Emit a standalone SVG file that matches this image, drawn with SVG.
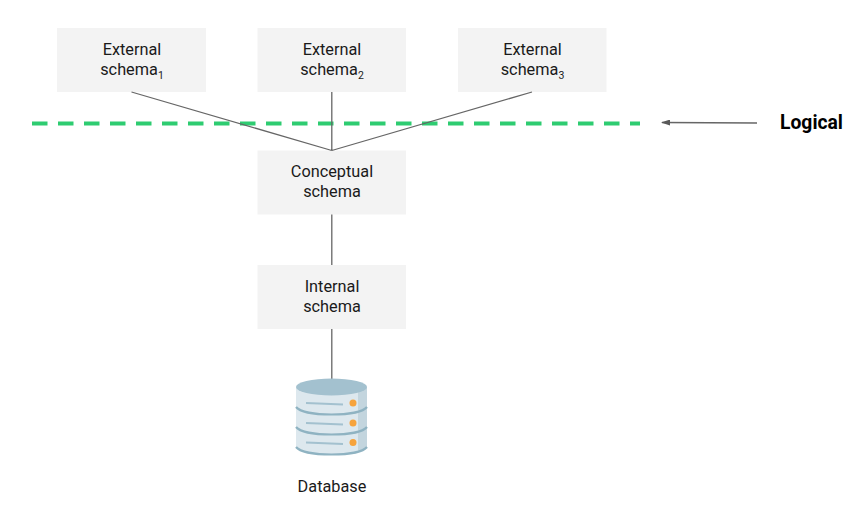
<svg xmlns="http://www.w3.org/2000/svg" width="850" height="514" viewBox="0 0 850 514">
<style>
.box{fill:#f3f3f3}
text{font-family:Roboto,"Liberation Sans",sans-serif;font-size:16.300px;fill:#1a1a1a;text-anchor:middle}
.sub{font-size:10.500px}
.ln{stroke:#666;stroke-width:1.300;fill:none}
</style>
<defs><marker id="ah" markerWidth="9" markerHeight="6" refX="8" refY="3" orient="auto" markerUnits="userSpaceOnUse"><path d="M0 0L9 3L0 6Z" fill="#595959"/></marker></defs>
<rect width="850" height="514" fill="#fff"/>
<g id="n1"><rect class="box" x="57" y="28" width="149" height="64"/><text x="132" y="54.500">External</text><text x="132" y="74.500">schema<tspan class="sub" dy="4">1</tspan></text></g>
<g id="n2"><rect class="box" x="257.500" y="28" width="148.500" height="64"/><text x="332" y="54.500">External</text><text x="332" y="74.500">schema<tspan class="sub" dy="4">2</tspan></text></g>
<g id="n3"><rect class="box" x="458" y="28" width="148.500" height="64"/><text x="532.500" y="54.500">External</text><text x="532.500" y="74.500">schema<tspan class="sub" dy="4">3</tspan></text></g>
<g id="n4"><rect class="box" x="257.500" y="150.500" width="148.500" height="64"/><text x="332" y="177">Conceptual</text><text x="332" y="197">schema</text></g>
<g id="n5"><rect class="box" x="257.500" y="265" width="148.500" height="64"/><text x="332" y="291.500">Internal</text><text x="332" y="311.500">schema</text></g>
<g id="connectors">
<path d="M32 123.500H640" stroke="#2ecc71" stroke-width="4" stroke-dasharray="15.500 10.500" fill="none"/>
<path class="ln" d="M131.500 92L331.800 150.500M331.800 92V150.500M532 92L331.800 150.500M331.800 214.500V265M331.800 329V380"/>
<path d="M757 123L662 122.500" stroke="#666" stroke-width="1.300" marker-end="url(#ah)" fill="none"/>
</g>
<g id="db">
<path d="M296 387V446C296 451 312 455 331.500 455S367 451 367 446V387Z" fill="#dde8ee"/>
<path d="M358 390L367 387V446C367 449 363 451 358 452Z" fill="#c3d5de"/>
<ellipse cx="331.500" cy="387" rx="35.500" ry="8.500" fill="#a3c1cf"/>
<path d="M296 407C300 412 315 414.500 331.500 414.500S363 412 367 407M296 427C300 432 315 434.500 331.500 434.500S363 432 367 427M296 447C300 452 315 454.500 331.500 454.500S363 452 367 447" fill="none" stroke="#8fb3c2" stroke-width="2.200"/>
<path d="M306 403L343 404.500M306 423L343 424.500M306 442.500L343 444" stroke="#a3c1cf" stroke-width="2" fill="none"/>
<circle cx="353" cy="403" r="3.500" fill="#f6a33c"/><circle cx="353" cy="423" r="3.500" fill="#f6a33c"/><circle cx="353" cy="442.500" r="3.500" fill="#f6a33c"/>
</g>
<g id="lbl1"><text x="332" y="491.500">Database</text></g>
<g id="lbl2"><text x="811.500" y="129" style="font-size:19.300px;font-weight:700;fill:#000">Logical</text></g>
</svg>
